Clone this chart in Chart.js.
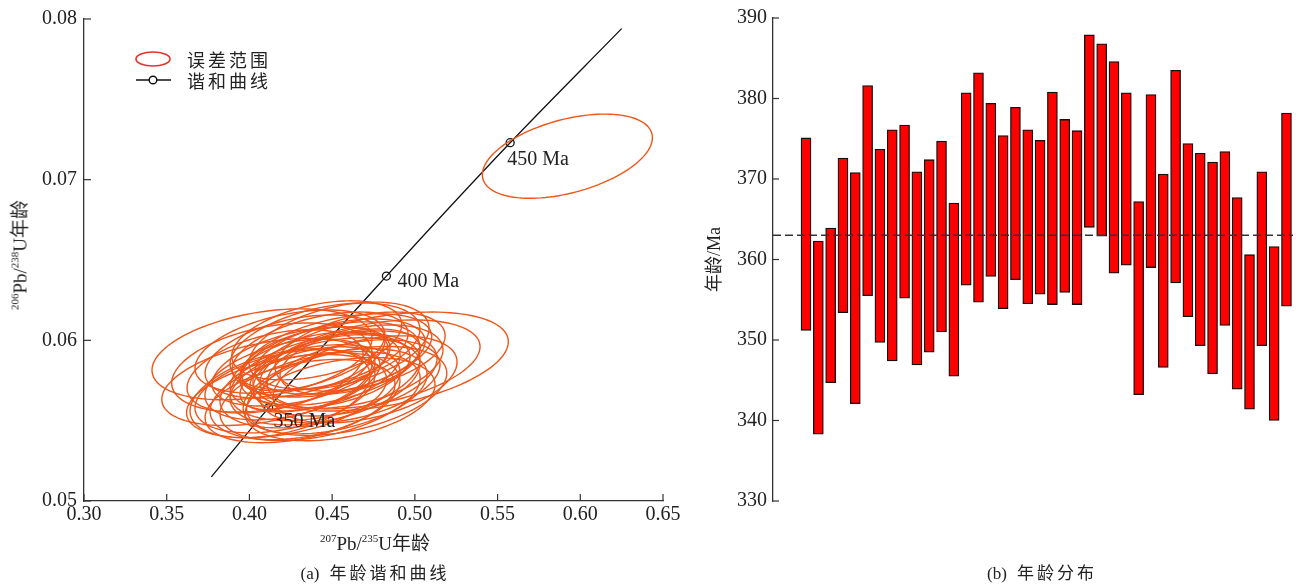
<!DOCTYPE html>
<html>
<head>
<meta charset="utf-8">
<script src="https://cdn.jsdelivr.net/npm/chart.js@4.4.1/dist/chart.umd.min.js"></script>
<style>
  body { margin: 0; background: #fff; width: 1300px; height: 585px; position: relative; overflow: hidden;
         font-family: "Liberation Serif", "Noto Sans CJK SC", serif; color: #222; }
  canvas { position: absolute; top: 0; }
  #concordia { left: 0; }
  #ages { left: 700px; }
  .lbl { position: absolute; white-space: nowrap; transform: translate(-50%, -50%); font-size: 19px; line-height: 1; }
  .lbl sup { font-size: 11px; vertical-align: 0; position: relative; top: -0.75em; }
  .cap { font-size: 17px; }
  .cap span { letter-spacing: 3px; margin-left: 10px; }
  .rot { transform: translate(-50%, -50%) rotate(-90deg); }
</style>
</head>
<body>
<canvas id="concordia" width="700" height="585"></canvas>
<canvas id="ages" width="600" height="585"></canvas>
<div class="lbl rot" style="left:20px; top:255px;"><sup>206</sup>Pb/<sup>238</sup>U年龄</div>
<div class="lbl" style="left:375px; top:543px;"><sup>207</sup>Pb/<sup>235</sup>U年龄</div>
<div class="lbl cap" style="left:375px; top:573px;">(a)<span>年龄谐和曲线</span></div>
<div class="lbl cap" style="left:1042px; top:573px;">(b)<span>年龄分布</span></div>
<script>
// ---- concordia curve (207Pb/235U vs 206Pb/238U) ----
const concordiaX = [0.377, 0.4116, 0.4828, 0.5576, 0.6250];
const concordiaY = [0.0515, 0.0558, 0.0640, 0.0723, 0.0794];
const markerAges = ['350 Ma', '400 Ma', '450 Ma'];
const markerX = [0.4116, 0.4828, 0.5576];
const markerY = [0.0558, 0.0640, 0.0723];

// ---- error ellipses: centre, half-axes and correlation ----
const ellipseX = [0.4076, 0.4793, 0.4729, 0.4588, 0.4528, 0.4457, 0.4407, 0.4105, 0.4135, 0.4245,
                  0.4225, 0.4306, 0.4427, 0.4185, 0.4542, 0.4487, 0.4397, 0.4578, 0.4306, 0.4457,
                  0.4548, 0.4366, 0.4638, 0.4245, 0.4518, 0.4427, 0.4336, 0.4608, 0.4487, 0.4276,
                  0.4669, 0.4397, 0.4548, 0.4155, 0.4699, 0.4366, 0.4457, 0.4215, 0.4608, 0.5922];
const ellipseY = [0.05913, 0.05868, 0.05850, 0.05685, 0.05906, 0.05772, 0.06000, 0.05741, 0.05831, 0.05930,
                  0.05653, 0.05622, 0.05653, 0.05671, 0.05967, 0.05856, 0.05807, 0.05794, 0.05837, 0.05745,
                  0.05899, 0.05714, 0.05837, 0.05757, 0.05683, 0.05930, 0.05653, 0.05745, 0.05807, 0.05899,
                  0.05930, 0.05868, 0.05634, 0.05807, 0.05757, 0.05757, 0.05961, 0.05683, 0.05868, 0.07146];
const ellipseSx = [0.0665, 0.0772, 0.0665, 0.0605, 0.0574, 0.0574, 0.0514, 0.0635, 0.0605, 0.0574,
                   0.0605, 0.0574, 0.0605, 0.0544, 0.0544, 0.0544, 0.0514, 0.0556, 0.0532, 0.0574,
                   0.0514, 0.0544, 0.0532, 0.0514, 0.0556, 0.0532, 0.0574, 0.0544, 0.0484, 0.0544,
                   0.0514, 0.0453, 0.0574, 0.0532, 0.0556, 0.0423, 0.0574, 0.0544, 0.0423, 0.0514];
const ellipseSy = [0.00283, 0.00308, 0.00277, 0.00277, 0.00259, 0.00271, 0.00246, 0.00271, 0.00277, 0.00259,
                   0.00259, 0.00259, 0.00277, 0.00277, 0.00271, 0.00259, 0.00246, 0.00265, 0.00246, 0.00271,
                   0.00234, 0.00259, 0.00259, 0.00252, 0.00265, 0.00246, 0.00271, 0.00259, 0.00228, 0.00259,
                   0.00246, 0.00216, 0.00259, 0.00259, 0.00271, 0.00203, 0.00271, 0.00259, 0.00203, 0.00262];
const ellipseRho = [0.35, 0.40, 0.40, 0.40, 0.45, 0.40, 0.40, 0.40, 0.35, 0.40,
                    0.40, 0.40, 0.40, 0.40, 0.40, 0.40, 0.40, 0.35, 0.45, 0.40,
                    0.40, 0.35, 0.40, 0.40, 0.40, 0.45, 0.35, 0.40, 0.40, 0.40,
                    0.40, 0.40, 0.35, 0.40, 0.40, 0.45, 0.40, 0.40, 0.40, 0.44];
const legendLabels = ['误差范围', '谐和曲线'];

// ---- age distribution (206Pb/238U age, Ma) ----
const spots = [1, 2, 3, 4, 5, 6, 7, 8, 9, 10, 11, 12, 13, 14, 15, 16, 17, 18, 19, 20,
               21, 22, 23, 24, 25, 26, 27, 28, 29, 30, 31, 32, 33, 34, 35, 36, 37, 38, 39, 40];
const ageHigh = [375.1, 362.3, 363.9, 372.6, 370.8, 381.6, 373.7, 376.1, 376.7, 370.9,
                 372.4, 374.7, 367.0, 380.7, 383.2, 379.4, 375.4, 378.9, 376.1, 374.8,
                 380.8, 377.4, 376.0, 387.9, 386.8, 384.6, 380.7, 367.2, 380.5, 370.6,
                 383.5, 374.4, 373.2, 372.1, 373.4, 367.7, 360.6, 370.9, 361.6, 378.2];
const ageLow = [351.2, 338.3, 344.7, 353.4, 342.1, 355.5, 349.7, 347.4, 355.2, 346.9,
                348.5, 351.0, 345.5, 356.8, 354.7, 357.9, 353.9, 357.5, 354.5, 355.7,
                354.4, 355.9, 354.4, 364.0, 362.9, 358.3, 359.3, 343.2, 359.0, 346.6,
                357.1, 352.9, 349.3, 345.8, 351.8, 343.9, 341.4, 349.3, 340.0, 354.2];
const meanAge = 363;

const SERIF = '"Liberation Serif", "Noto Sans CJK SC", serif';
const tickFont = { family: SERIF, size: 20 };

// short tick marks pointing into the plot
const innerTicks = {
  id: 'innerTicks',
  afterDraw(chart, args, opts) {
    const ctx = chart.ctx;
    ctx.save();
    ctx.strokeStyle = '#333';
    ctx.lineWidth = 1.2;
    Object.values(chart.scales).forEach((s) => {
      if (!s.options.display) return;
      s.ticks.forEach((t, i) => {
        const p = s.getPixelForTick(i);
        ctx.beginPath();
        if (s.isHorizontal()) {
          ctx.moveTo(p, s.top);
          ctx.lineTo(p, s.top - opts.length);
        } else {
          ctx.moveTo(s.right, p);
          ctx.lineTo(s.right + opts.length, p);
        }
        ctx.stroke();
      });
    });
    ctx.restore();
  }
};

// error ellipses + age labels on the concordia
const ellipses = {
  id: 'ellipses',
  afterDatasetsDraw(chart) {
    const { ctx, scales: { x, y } } = chart;
    ctx.save();
    ctx.strokeStyle = '#EE561A';
    ctx.lineWidth = 1.4;
    ellipseX.forEach((cx, i) => {
      const sx = ellipseSx[i], sy = ellipseSy[i], r = ellipseRho[i];
      const q = Math.sqrt(1 - r * r);
      ctx.beginPath();
      for (let k = 0; k <= 120; k++) {
        const t = (k / 120) * Math.PI * 2;
        const px = x.getPixelForValue(cx + sx * Math.cos(t));
        const py = y.getPixelForValue(ellipseY[i] + sy * (r * Math.cos(t) + q * Math.sin(t)));
        if (k === 0) ctx.moveTo(px, py); else ctx.lineTo(px, py);
      }
      ctx.closePath();
      ctx.stroke();
    });

    const offsets = [[5, 14], [11, 6], [-3, 17]];
    ctx.fillStyle = '#222';
    ctx.font = '20px ' + SERIF;
    ctx.textBaseline = 'middle';
    ctx.textAlign = 'left';
    markerAges.forEach((label, i) => {
      ctx.fillText(label, x.getPixelForValue(markerX[i]) + offsets[i][0],
                   y.getPixelForValue(markerY[i]) + offsets[i][1]);
    });
    ctx.restore();
  }
};

const concordiaLegend = {
  id: 'concordiaLegend',
  afterDraw(chart) {
    const { ctx, chartArea } = chart;
    const x0 = chartArea.left + 52, y0 = chartArea.top + 40;
    ctx.save();
    ctx.strokeStyle = '#E2352A';
    ctx.lineWidth = 1.6;
    ctx.beginPath();
    ctx.ellipse(x0 + 17, y0, 17, 7, 0, 0, Math.PI * 2);
    ctx.stroke();

    ctx.strokeStyle = '#111';
    ctx.lineWidth = 1.4;
    ctx.beginPath();
    ctx.moveTo(x0, y0 + 21);
    ctx.lineTo(x0 + 35, y0 + 21);
    ctx.stroke();
    ctx.beginPath();
    ctx.arc(x0 + 17, y0 + 21, 3.8, 0, Math.PI * 2);
    ctx.fillStyle = '#fff';
    ctx.fill();
    ctx.stroke();

    ctx.fillStyle = '#222';
    ctx.font = '18px "Noto Sans CJK SC"';
    ctx.textBaseline = 'middle';
    legendLabels.forEach((label, i) => {
      [...label].forEach((ch, j) => ctx.fillText(ch, x0 + 51 + j * 21, y0 + 1 + i * 21));
    });
    ctx.restore();
  }
};

// dashed weighted-mean line over the bars
const meanLine = {
  id: 'meanLine',
  afterDatasetsDraw(chart) {
    const { ctx, chartArea, scales: { y } } = chart;
    const py = y.getPixelForValue(meanAge);
    ctx.save();
    ctx.strokeStyle = '#333';
    ctx.lineWidth = 1.5;
    ctx.setLineDash([8, 4]);
    ctx.beginPath();
    ctx.moveTo(chartArea.left, py);
    ctx.lineTo(chartArea.right, py);
    ctx.stroke();
    ctx.restore();
  }
};

Chart.defaults.animation = false;
Chart.defaults.color = '#222';

new Chart(document.getElementById('concordia'), {
  type: 'scatter',
  data: {
    datasets: [
      {
        data: concordiaX.map((v, i) => ({ x: v, y: concordiaY[i] })),
        showLine: true,
        cubicInterpolationMode: 'monotone',
        borderColor: '#111',
        borderWidth: 1.3,
        pointRadius: 0,
      },
      {
        data: markerX.map((v, i) => ({ x: v, y: markerY[i] })),
        pointRadius: 4,
        pointBackgroundColor: '#fff',
        pointBorderColor: '#111',
        pointBorderWidth: 1.3,
      },
    ],
  },
  options: {
    responsive: false,
    layout: { padding: { left: 0, top: 14.5, right: 37, bottom: 0 } },
    plugins: { legend: { display: false }, tooltip: { enabled: false }, innerTicks: { length: 7 } },
    scales: {
      x: {
        type: 'linear', min: 0.30, max: 0.65,
        ticks: { stepSize: 0.05, font: tickFont, padding: 2, callback: (v) => v.toFixed(2) },
        grid: { display: false, drawTicks: false },
        border: { display: true, color: '#333', width: 1.3 },
        afterFit: (s) => { s.height = 84; },
      },
      y: {
        type: 'linear', min: 0.05, max: 0.08,
        ticks: { stepSize: 0.01, font: tickFont, padding: 7, callback: (v) => v.toFixed(2) },
        grid: { display: false, drawTicks: false },
        border: { display: true, color: '#333', width: 1.3 },
        afterFit: (s) => { s.width = 84; },
      },
    },
  },
  plugins: [ellipses, innerTicks, concordiaLegend],
});

new Chart(document.getElementById('ages'), {
  type: 'bar',
  data: {
    datasets: [{
      data: spots.map((s, i) => ({ x: s, y: [ageLow[i], ageHigh[i]] })),
      backgroundColor: '#FF0000',
      borderColor: '#111',
      borderWidth: 1.3,
      borderSkipped: false,
      barThickness: 10,
    }],
  },
  options: {
    responsive: false,
    layout: { padding: { left: 0, top: 14, right: 7, bottom: 84 } },
    plugins: { legend: { display: false }, tooltip: { enabled: false }, innerTicks: { length: 6 } },
    scales: {
      x: { type: 'linear', min: -1.68, max: 40.53, offset: false, display: false },
      y: {
        min: 330, max: 390,
        ticks: { stepSize: 10, font: tickFont, padding: 6 },
        grid: { display: false, drawTicks: false },
        border: { display: true, color: '#333', width: 1.3 },
        title: { display: true, text: '年龄/Ma', font: { family: SERIF, size: 18 }, padding: { top: 4 } },
        afterFit: (s) => { s.width = 73; },
      },
    },
  },
  plugins: [meanLine, innerTicks],
});
</script>
</body>
</html>
